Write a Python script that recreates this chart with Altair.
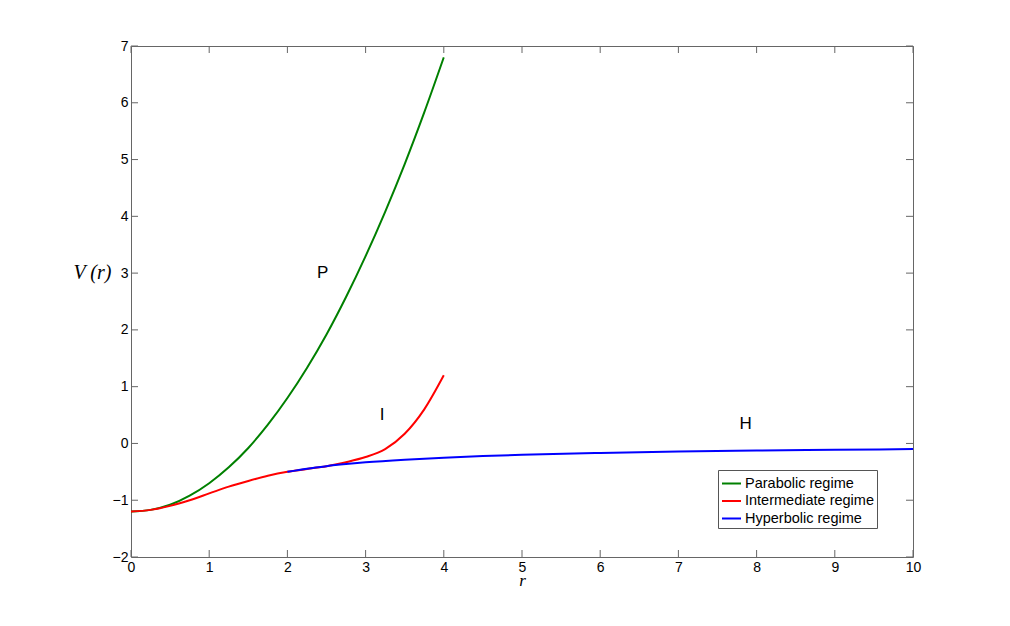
import altair as alt
import pandas as pd

# ---- data ----
green_r = [0, 0.25, 0.5, 0.75, 1, 1.25, 1.5, 1.75, 2, 2.25, 2.5, 2.75, 3, 3.25, 3.5, 3.75, 4]
green_v = [-1.2, -1.17, -1.08, -0.92, -0.7, -0.42, -0.08, 0.33, 0.8, 1.33, 1.92, 2.58, 3.3, 4.08, 4.92, 5.83, 6.8]

red_r = [0, 0.25, 0.5, 0.75, 1, 1.25, 1.5, 1.75, 2, 2.25, 2.5, 2.75, 3, 3.25, 3.5, 3.75, 4]
red_v = [-1.2, -1.17, -1.1, -1.0, -0.88, -0.76, -0.66, -0.57, -0.5, -0.45, -0.4, -0.33, -0.24, -0.1, 0.17, 0.6, 1.2]

blue_r = [2, 2.25, 2.5, 2.75, 3, 3.5, 4, 4.5, 5, 6, 7, 8, 9, 10]
blue_v = [-0.5, -0.444, -0.4, -0.364, -0.333, -0.286, -0.25, -0.222, -0.2, -0.167, -0.143, -0.125, -0.111, -0.1]

series_names = ["Parabolic regime", "Intermediate regime", "Hyperbolic regime"]
series_colors = ["#008000", "#ff0000", "#0000ff"]

label_text = ["P", "I", "H"]
label_r = [2.38, 3.18, 7.78]
label_v = [3.0, 0.5, 0.35]

x_ticks = [0, 1, 2, 3, 4, 5, 6, 7, 8, 9, 10]
y_ticks = [-2, -1, 0, 1, 2, 3, 4, 5, 6, 7]

# ---- tables ----
rows = []
for name, rs, vs in zip(series_names, [green_r, red_r, blue_r], [green_v, red_v, blue_v]):
    for i, (r, v) in enumerate(zip(rs, vs)):
        rows.append({"series": name, "r": r, "V": v, "i": i})
df = pd.DataFrame(rows)
labels_df = pd.DataFrame({"t": label_text, "r": label_r, "V": label_v})
xt_df = pd.DataFrame({"t": x_ticks})
yt_df = pd.DataFrame({"t": y_ticks})

W, H = 782, 511
TL = 7
AX = "#666666"
FONT = "Liberation Sans"

xscale = alt.Scale(domain=[0, 10], nice=False, zero=False)
yscale = alt.Scale(domain=[-2, 7], nice=False, zero=False)

x_axis = alt.Axis(values=x_ticks, format="d", ticks=False, domain=False, grid=False, labelPadding=3,
                  labelFlush=False, labelOverlap=False,
                  labelFont=FONT, labelFontSize=14, labelColor="black",
                  title="r", titleFont="Liberation Serif", titleFontStyle="italic",
                  titleFontWeight="normal", titleFontSize=17, titleColor="black",
                  titleBaseline="alphabetic", titleY=28)
y_axis = alt.Axis(values=y_ticks, format="d", ticks=False, domain=False, grid=False, labelPadding=3,
                  labelFlush=False, labelOverlap=False,
                  labelFont=FONT, labelFontSize=14, labelColor="black",
                  title="V (r)", titleFont="Liberation Serif", titleFontStyle="italic",
                  titleFontWeight="normal", titleFontSize=20, titleColor="black",
                  titleAngle=0, titleAlign="center", titleBaseline="alphabetic",
                  titleX=-39, titleY=232)

lines = alt.Chart(df).mark_line(strokeWidth=2, interpolate="monotone").encode(
    x=alt.X("r:Q", scale=xscale, axis=x_axis),
    y=alt.Y("V:Q", scale=yscale, axis=y_axis),
    color=alt.Color("series:N", scale=alt.Scale(domain=series_names, range=series_colors),
                    legend=alt.Legend(title=None, orient="none", legendX=587, legendY=424,
                                      symbolType="stroke", symbolSize=361, symbolStrokeWidth=2,
                                      labelFont=FONT, labelFontSize=14.5, labelColor="black",
                                      labelOffset=3, rowPadding=0.5, padding=3,
                                      strokeColor="#555555", fillColor="white")),
    order="i:Q",
)

texts = alt.Chart(labels_df).mark_text(font=FONT, fontSize=17, align="left", baseline="middle",
                                       color="black").encode(
    x=alt.X("r:Q", scale=xscale), y=alt.Y("V:Q", scale=yscale), text="t:N")

tick_top = alt.Chart(xt_df).mark_rule(color=AX).encode(
    x=alt.X("t:Q", scale=xscale), y=alt.value(0), y2=alt.value(TL))
tick_bot = alt.Chart(xt_df).mark_rule(color=AX).encode(
    x=alt.X("t:Q", scale=xscale), y=alt.value(H), y2=alt.value(H - TL))
tick_left = alt.Chart(yt_df).mark_rule(color=AX).encode(
    y=alt.Y("t:Q", scale=yscale), x=alt.value(0), x2=alt.value(TL))
tick_right = alt.Chart(yt_df).mark_rule(color=AX).encode(
    y=alt.Y("t:Q", scale=yscale), x=alt.value(W), x2=alt.value(W - TL))

chart = alt.layer(tick_top, tick_bot, tick_left, tick_right, lines, texts).properties(
    width=W, height=H,
    padding={"left": 123, "top": 38, "right": 80, "bottom": 50},
    autosize=alt.AutoSizeParams(type="none"),
    background="white",
).configure_view(stroke=AX, strokeWidth=1)

chart.save("out.html", embed_options={"renderer": "svg", "actions": False})
